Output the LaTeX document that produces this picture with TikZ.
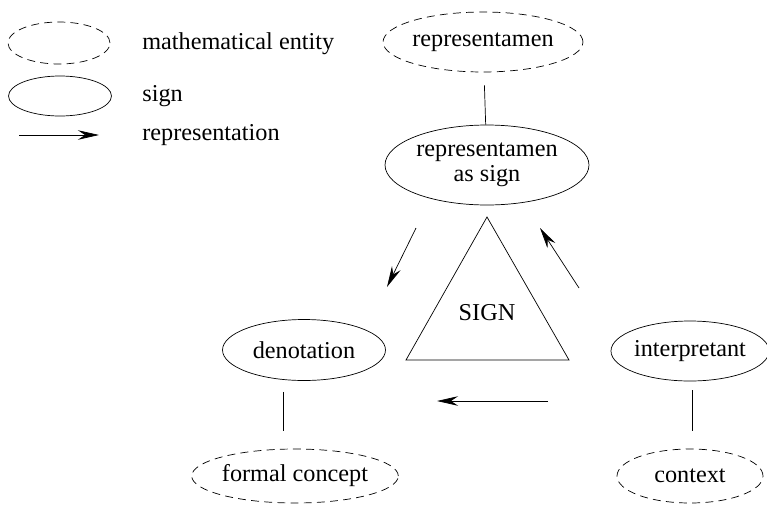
\documentclass[tikz,border=0pt]{standalone}
\usepackage{fontspec}
\setmainfont{Liberation Serif}
\usepackage{tikz}
\usetikzlibrary{positioning, calc, arrows.meta, shapes.geometric}
\tikzset{entity/.style={ellipse, draw, dash pattern=on 4.5pt off 3pt, inner sep=0pt}}
\tikzset{sign/.style={ellipse, draw, inner sep=0pt, align=center}}
\tikzset{repr/.style={-{Stealth[length=0.42cm, width=0.19cm, inset=0.14cm]}}}
\tikzset{label/.style={anchor=west, inner sep=0pt}}

\begin{document}
\begin{tikzpicture}[x=0.02cm, y=-0.02cm, font=\rmfamily\fontsize{13.8}{15.5}\selectfont]

      \useasboundingbox (0,0) rectangle (767,504);

      % LEGEND

      \node[entity, minimum width=2.04cm, minimum height=0.84cm] (kentity) at (59,43) {};
      \node[sign, minimum width=2.06cm, minimum height=0.80cm] (ksign) at (60,96) {};
      \coordinate (kfrom) at (19,135);
      \coordinate (kto) at (99,135);
      \draw[repr] (kfrom) -- (kto);

      \node[label] (tentity) at (142,44) {mathematical entity};
      \node[label] (tsign) at (142,96) {sign};
      \node[label] (trepr) at (142,135) {representation};

      % ENTITIES AND SIGNS

      \node[entity, minimum width=3.6cm, minimum height=1.2cm] (rep) at (483,42) {representamen};
      \node[sign, minimum width=4.08cm, minimum height=1.6cm] (repsign) at (487,165) {representamen\\[-1pt]as sign};
      \node[sign, minimum width=3.26cm, minimum height=1.22cm] (den) at (304,350) {denotation};
      \node[sign, minimum width=3.12cm, minimum height=1.2cm] (int) at (690,351) {interpretant};
      \node[entity, minimum width=4.08cm, minimum height=1.08cm] (con) at (295,476) {formal concept};
      \node[entity, minimum width=2.92cm, minimum height=1.08cm] (ctx) at (690,476) {context};

      % TRIANGLE

      \node (sgn) at (487,313) {SIGN};
      \coordinate (ta) at (487,217);
      \coordinate (tb) at (406,360);
      \coordinate (tc) at (569,360);
      \draw (ta) -- (tb) -- (tc) -- cycle;

      % LINKS

      \draw[shorten <=0.26cm] (rep) -- (repsign);
      \draw[shorten <=0.22cm, shorten >=0.36cm] (den.south -| 283,0) -- (con.north -| 283,0);
      \draw[shorten <=0.18cm, shorten >=0.36cm] (int.south -| 692,0) -- (ctx.north -| 692,0);

      % ARROWS

      \coordinate (a1) at (416,228);
      \coordinate (b1) at (387,287);
      \coordinate (a2) at (579,288);
      \coordinate (b2) at (540,228);
      \coordinate (a3) at (548,401);
      \coordinate (b3) at (437,401);
      \draw[repr] (a1) -- (b1);
      \draw[repr] (a2) -- (b2);
      \draw[repr] (a3) -- (b3);
    \end{tikzpicture}
\end{document}
